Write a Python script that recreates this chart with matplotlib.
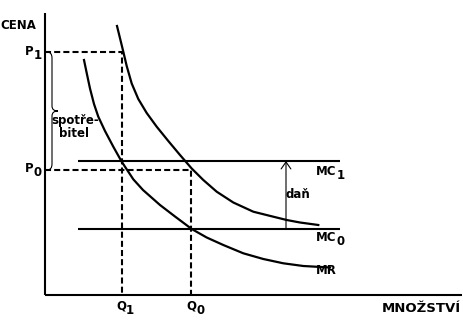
import matplotlib
matplotlib.use('Agg')
import matplotlib.pyplot as plt
from matplotlib.path import Path
from matplotlib.patches import PathPatch

# values (origin at the axes corner)
q1, q0 = 77, 146
p1, p0 = 243, 125
mc1, mc0 = 134, 66
mc_from, mc_to = 33, 295
tax_x = 241

# upper curve
up_x = [72, 75.2, 78.3, 81.7, 86.7, 93.3, 101.7, 111.7, 123.3, 135,
        146.7, 158.3, 171.7, 188.3, 208.3, 228.3, 241.7, 255, 273.3]
up_y = [269, 256, 243.3, 229, 211.5, 196, 182, 168.3, 154, 140,
        126.5, 115, 103.3, 92.5, 83.3, 78.3, 75, 72.5, 70]
# MR curve
mr_x = [39, 41.7, 45, 49, 53.3, 60, 68.3, 76.7, 88.3, 98, 115, 130,
        146.7, 161.7, 178.3, 198.3, 218.3, 238.3, 258.3, 285]
mr_y = [235, 222, 206.5, 191, 178.3, 164, 148.3, 133.3, 115.7, 105, 90, 78.5,
        66, 57.5, 50, 41.7, 36, 31.7, 29, 27.5]

ax_top, ax_right = 282, 417

fig = plt.figure(figsize=(4.63, 3.22), dpi=100)
ax = fig.add_axes([0, 0, 1, 1])
ax.set_xlim(-45, 418)
ax.set_ylim(-27, 295)
ax.axis('off')

k = dict(color='black', lw=1.5, solid_capstyle='butt')
dash = dict(color='black', lw=1.5, linestyle=(0, (2.9, 1.5)))

# axes
ax.plot([0, 0], [0, ax_top], **k)
ax.plot([0, ax_right], [0, 0], **k)

# dashed guides
ax.plot([0, q1, q1], [p1, p1, 0], **dash)
ax.plot([0, q0, q0], [p0, p0, 0], **dash)

# MC lines
ax.plot([mc_from, mc_to], [mc1, mc1], **k)
ax.plot([mc_from, mc_to], [mc0, mc0], **k)

# curves
ax.plot(up_x, up_y, color='black', lw=1.6, solid_joinstyle='round')
ax.plot(mr_x, mr_y, color='black', lw=1.6, solid_joinstyle='round')

# tax arrow
ax.annotate('', xy=(tax_x, mc1), xytext=(tax_x, mc0),
            arrowprops=dict(arrowstyle='->,head_length=0.5,head_width=0.35',
                            lw=0.8, color='black', shrinkA=0, shrinkB=0,
                            mutation_scale=10))

# brace between p0 and p1
mid = (p1 + p0) / 2
verts = [(2, p1), (7, p1), (7, p1 - 6),
         (7, mid + 5), (7, mid), (13, mid),
         (7, mid), (7, mid - 5),
         (7, p0 + 6), (7, p0), (2, p0)]
codes = [Path.MOVETO, Path.CURVE3, Path.CURVE3,
         Path.LINETO, Path.CURVE3, Path.CURVE3,
         Path.CURVE3, Path.CURVE3,
         Path.LINETO, Path.CURVE3, Path.CURVE3]
ax.add_patch(PathPatch(Path(verts, codes), fill=False, lw=0.8, color='black'))

f = dict(fontsize=8.5, fontweight='bold', family='DejaVu Sans',
         ha='center', va='center')


def lab(x, y, main, sub, dy):
    t = ax.text(x, y, main, **f)
    ax.annotate(sub, xy=(1, 0.5), xycoords=t, xytext=(0, dy),
                textcoords='offset points', fontsize=8.5, fontweight='bold',
                family='DejaVu Sans', ha='left', va='center')


ax.text(-27, 270, 'CENA', **f)
ax.text(376, -13, 'MNOŽSTVÍ', fontsize=9.5, fontweight='bold',
        family='DejaVu Sans', ha='center', va='center')
lab(-16, p1 + 1, 'P', '1', -3)
lab(-16, p0 + 2, 'P', '0', -3)
lab(q1 - 1, -11, 'Q', '1', -3.5)
lab(q0 + 0.5, -11, 'Q', '0', -3.5)
lab(281, mc1 - 10, 'MC', '1', -3)
lab(281, mc0 - 8.5, 'MC', '0', -3)
ax.text(281, 25, 'MR', **f)
ax.text(253, 100, 'daň', **f)
ax.text(30, 175, 'spotře-', **f)
ax.text(29, 162, 'bitel', **f)

fig.savefig('out.png', dpi=100, facecolor='white')
